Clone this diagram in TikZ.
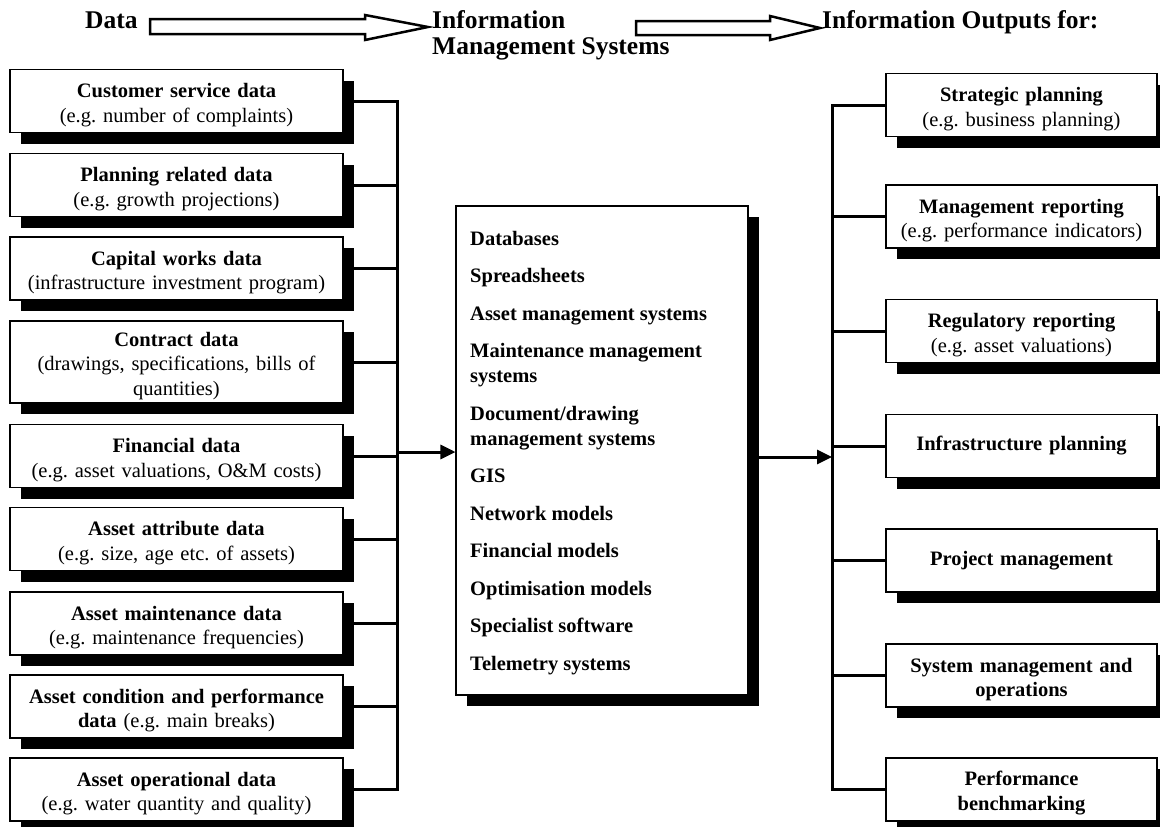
\documentclass[tikz,border=0pt]{standalone}
\usepackage{fontspec}
\setmainfont{Liberation Serif}
\usetikzlibrary{arrows.meta,shadows}
\frenchspacing
\newcommand\mylift{\rule{0pt}{22pt}}
\begin{document}
\begin{tikzpicture}[x=1pt,y=-1pt,
  box/.style={draw=black,line width=1.1pt,fill=white,align=center,inner sep=2pt,
    drop shadow={shadow xshift=11pt,shadow yshift=-11pt,fill=black,opacity=1},
    font=\fontsize{20.5}{24.5}\selectfont},
  lbox/.style={box,minimum width=333pt,text width=325pt,minimum height=63pt},
  rbox/.style={box,minimum width=271pt,text width=263pt,minimum height=63pt},
  wire/.style={line width=3pt},
  tip/.style={-{Triangle[length=15pt,width=14pt]}},
  item/.style={anchor=base west,inner sep=0pt,font=\fontsize{20.5}{25}\selectfont\bfseries},
  head/.style={anchor=base west,inner sep=0pt,font=\fontsize{25.5}{26}\selectfont\bfseries,align=left},
  bigarrow/.style={draw,line width=2.5pt,fill=white,line join=miter}
]
\useasboundingbox (0,0) rectangle (1160,827);

% header
\node[head] (hdata) at (85,28) {Data};
\node[head] (hims) at (432,28) {Information};
\node[head] (hims2) at (432,54) {Management Systems};
\node[head] (hout) at (822,28) {Information Outputs for:};
\draw[bigarrow] (150,19) -- (365,19) -- (365,15) -- (428,27) -- (365,40) -- (365,34) -- (150,34) -- cycle;
\draw[bigarrow] (636,21) -- (770,21) -- (770,16) -- (820,28) -- (770,40) -- (770,35) -- (636,35) -- cycle;

% left boxes
\node[lbox] (l1) at (176.5,101) {\mylift\textbf{Customer service data}\\(e.g. number of complaints)};
\node[lbox] (l2) at (176.5,185) {\mylift\textbf{Planning related data}\\(e.g. growth projections)};
\node[lbox] (l3) at (176.5,268.5) {\mylift\textbf{Capital works data}\\(infrastructure investment program)};
\node[lbox,minimum height=82pt] (l4) at (176.5,362) {\mylift\textbf{Contract data}\\(drawings, specifications, bills of\\quantities)};
\node[lbox] (l5) at (176.5,456) {\mylift\textbf{Financial data}\\(e.g. asset valuations, O\&M costs)};
\node[lbox] (l6) at (176.5,539) {\mylift\textbf{Asset attribute data}\\(e.g. size, age etc. of assets)};
\node[lbox] (l7) at (176.5,623.5) {\mylift\textbf{Asset maintenance data}\\(e.g. maintenance frequencies)};
\node[lbox] (l8) at (176.5,706.5) {\mylift\textbf{Asset condition and performance}\\\textbf{data} (e.g. main breaks)};
\node[lbox] (l9) at (176.5,789.5) {\mylift\textbf{Asset operational data}\\(e.g. water quantity and quality)};

% centre box
\node[box,minimum width=292pt,minimum height=489pt] (cbox) at (602,450.5) {};
\node[item] (c1) at (470,245) {Databases};
\node[item] (c2) at (470,282.5) {Spreadsheets};
\node[item] (c3) at (470,320) {Asset management systems};
\node[item] (c4) at (470,357.5) {Maintenance management};
\node[item] (c4b) at (470,382.5) {systems};
\node[item] (c5) at (470,420) {Document/drawing};
\node[item] (c5b) at (470,445) {management systems};
\node[item] (c6) at (470,482.5) {GIS};
\node[item] (c7) at (470,520) {Network models};
\node[item] (c8) at (470,557.5) {Financial models};
\node[item] (c9) at (470,595) {Optimisation models};
\node[item] (c10) at (470,632.5) {Specialist software};
\node[item] (c11) at (470,670) {Telemetry systems};

% right boxes
\node[rbox] (r1) at (1021.5,105) {\mylift\textbf{Strategic planning}\\(e.g. business planning)};
\node[rbox] (r2) at (1021.5,216.5) {\mylift\textbf{Management reporting}\\(e.g. performance indicators)};
\node[rbox] (r3) at (1021.5,331) {\mylift\textbf{Regulatory reporting}\\(e.g. asset valuations)};
\node[rbox] (r4) at (1021.5,446) {\textbf{Infrastructure planning}};
\node[rbox] (r5) at (1021.5,560.5) {\textbf{Project management}};
\node[rbox] (r6) at (1021.5,675.5) {\mylift\textbf{System management and}\\\textbf{operations}};
\node[rbox] (r7) at (1021.5,789.5) {\mylift\textbf{Performance}\\\textbf{benchmarking}};

% left bus
\coordinate (lb) at (397,452);
\foreach \n in {l1,l2,l3,l4,l5,l6,l7,l8,l9}
  \draw[wire] (\n.east) -- (\n.east -| lb);
\draw[wire,line cap=rect] (l1.east -| lb) -- (l9.east -| lb);
\draw[wire,tip] (lb) -- (lb -| cbox.west);

% right bus
\coordinate (rb) at (832,457);
\foreach \n in {r1,r2,r3,r4,r5,r6,r7}
  \draw[wire] (\n.west -| rb) -- (\n.west);
\draw[wire,line cap=rect] (r1.west -| rb) -- (r7.west -| rb);
\draw[wire,tip] (cbox.east |- rb) -- (rb);
\end{tikzpicture}
\end{document}
